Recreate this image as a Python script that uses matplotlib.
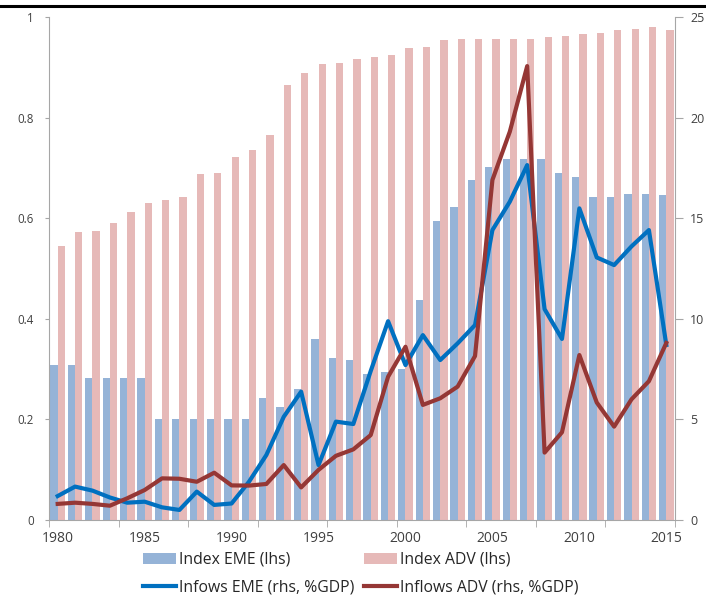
import numpy as np
import matplotlib.pyplot as plt
from matplotlib.lines import Line2D

plt.rcParams['font.family'] = ['Open Sans', 'DejaVu Sans']

years = list(range(1980, 2016))

# lhs: de jure openness indices
eme_index = [0.308, 0.308, 0.282, 0.282, 0.282, 0.282, 0.200, 0.200, 0.200, 0.200,
             0.200, 0.200, 0.242, 0.225, 0.260, 0.359, 0.323, 0.318, 0.290, 0.295,
             0.300, 0.437, 0.595, 0.622, 0.676, 0.702, 0.717, 0.717, 0.717, 0.689,
             0.681, 0.643, 0.643, 0.649, 0.649, 0.647]
adv_index = [0.545, 0.572, 0.574, 0.591, 0.612, 0.630, 0.636, 0.642, 0.688, 0.690,
             0.721, 0.735, 0.765, 0.865, 0.889, 0.907, 0.908, 0.917, 0.920, 0.924,
             0.938, 0.940, 0.954, 0.957, 0.957, 0.957, 0.956, 0.956, 0.961, 0.963,
             0.966, 0.969, 0.975, 0.977, 0.981, 0.975]

# rhs: gross inflows, % of GDP
eme_flows = [1.19, 1.66, 1.46, 1.12, 0.86, 0.91, 0.63, 0.50, 1.41, 0.75,
             0.82, 1.90, 3.23, 5.13, 6.38, 2.73, 4.89, 4.77, 7.40, 9.88,
             7.70, 9.19, 7.95, 8.78, 9.69, 14.41, 15.82, 17.64, 10.48, 9.00,
             15.49, 13.05, 12.67, 13.60, 14.41, 8.70]
adv_flows = [0.80, 0.86, 0.80, 0.71, 1.08, 1.49, 2.07, 2.05, 1.90, 2.35,
             1.72, 1.71, 1.79, 2.73, 1.62, 2.49, 3.19, 3.51, 4.22, 7.12,
             8.61, 5.72, 6.05, 6.63, 8.15, 16.90, 19.30, 22.56, 3.35, 4.36,
             8.20, 5.84, 4.64, 6.00, 6.90, 8.80]

labels = ['Index EME (lhs)', 'Index ADV (lhs)',
          'Infows EME (rhs, %GDP)', 'Inflows ADV (rhs, %GDP)']

grey = '#A6A6A6'
txt = '#404040'

fig = plt.figure(figsize=(7.06, 5.96), dpi=100)
ax = fig.add_axes([49 / 706, 76 / 596, 626 / 706, 503 / 596])

x = np.arange(len(years))
b1 = ax.bar(x - 0.21, eme_index, width=0.42, color='#95B3D7')
b2 = ax.bar(x + 0.21, adv_index, width=0.42, color='#E6B9B8')
ax.set_xlim(-0.5, len(years) - 0.5)
ax.set_ylim(0, 1)
ax.set_yticks([0, 0.2, 0.4, 0.6, 0.8, 1])
ax.set_yticklabels(['0', '0.2', '0.4', '0.6', '0.8', '1'])

ax.set_xticks(x[::5])
ax.set_xticklabels([str(y) for y in years[::5]])
ax.set_xticks(np.arange(-0.5, len(years), 4), minor=True)
ax.tick_params(axis='x', which='major', length=0, pad=8, labelsize=10, labelcolor=txt)
ax.tick_params(axis='x', which='minor', length=5, color=grey)
ax.tick_params(axis='y', length=3, color=grey, pad=8, labelsize=8.3, labelcolor=txt)

ax2 = ax.twinx()
l1, = ax2.plot(x, eme_flows, color='#0070C0', lw=3)
l2, = ax2.plot(x, adv_flows, color='#953735', lw=3)
ax2.set_ylim(0, 25)
ax2.set_yticks([0, 5, 10, 15, 20, 25])
ax2.tick_params(axis='y', length=6, color=grey, pad=5, labelsize=9, labelcolor=txt)

for a in (ax, ax2):
    a.spines['top'].set_visible(False)
    for s in ('left', 'right', 'bottom'):
        a.spines[s].set_color(grey)
ax.spines['right'].set_visible(False)
ax2.spines['left'].set_visible(False)
ax2.spines['bottom'].set_visible(False)

fig.legend([b1, l1, b2, l2], [labels[0], labels[2], labels[1], labels[3]],
           ncol=2, loc='center', bbox_to_anchor=(0.511, 0.0376), frameon=False,
           fontsize=11.3, handlelength=2.1, handletextpad=0.2, columnspacing=0.6,
           labelspacing=0.75, labelcolor='#262626')

# black rule across the top of the figure
fig.add_artist(Line2D([0, 1], [1 - 6 / 596] * 2, color='black', lw=2.2,
                      transform=fig.transFigure))

fig.savefig('out.png', dpi=100)
